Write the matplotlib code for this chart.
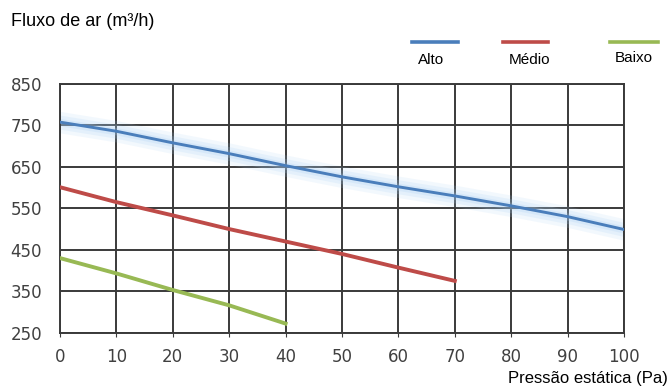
import matplotlib.pyplot as plt
import numpy as np

# Pressão estática (Pa)
pressao = [0, 10, 20, 30, 40, 50, 60, 70, 80, 90, 100]
alto = [758, 736, 708, 682, 653, 626, 602, 580, 556, 530, 499]
pressao_medio = [0, 10, 20, 30, 40, 50, 60, 70]
medio = [601, 565, 533, 500, 470, 440, 407, 375]
pressao_baixo = [0, 10, 20, 30, 40]
baixo = [430, 393, 353, 316, 272]

y_ticks = [250, 350, 450, 550, 650, 750, 850]
x_ticks = [0, 10, 20, 30, 40, 50, 60, 70, 80, 90, 100]

cor_alto = '#4A7EBB'
cor_medio = '#BE4B48'
cor_baixo = '#98B954'
cinza = '#3a3a3a'

fig = plt.figure(figsize=(6.7, 3.91), dpi=100)
ax = fig.add_axes([60/670, 1-332.7/391, 564/670, 248.7/391])

# brilho azul em volta da linha "Alto"
a = np.array(alto)
for w, al in [(26, 0.14), (17, 0.18), (9, 0.22)]:
    ax.fill_between(pressao, a - w, a + w, color='#a8d0f5', alpha=al, lw=0)

ax.plot(pressao, alto, color=cor_alto, lw=2.1, zorder=3)
ax.plot(pressao_medio, medio, color=cor_medio, lw=2.8, zorder=3)
ax.plot(pressao_baixo, baixo, color=cor_baixo, lw=2.8, zorder=3)

ax.set_xlim(0, 100)
ax.set_ylim(250, 850)
ax.set_xticks(x_ticks)
ax.set_yticks(y_ticks)
ax.grid(True, color=cinza, lw=1.4)
ax.set_axisbelow(True)
for s in ax.spines.values():
    s.set_color(cinza)
    s.set_linewidth(1.4)
ax.tick_params(axis='x', length=3, color=cinza, pad=8, labelsize=12, labelcolor='#404040')
ax.tick_params(axis='y', length=0, pad=13, labelsize=12, labelcolor='#404040')

fig.text(11/670, 1-22/391, 'Fluxo de ar (m³/h)', fontsize=13, family='Liberation Sans', va='center', ha='left')
fig.text(668/670, 1-379/391, 'Pressão estática (Pa)', fontsize=12, family='Liberation Sans', va='center', ha='right')

# legenda manual
leg = [('Alto', cor_alto, 412, 458, 431, 60), ('Médio', cor_medio, 503, 548, 529, 60),
       ('Baixo', cor_baixo, 610, 658, 634, 58)]
for nome, cor, x0, x1, xt, yt in leg:
    fig.add_artist(plt.Line2D([x0/670, x1/670], [1-42/391, 1-42/391], color=cor, lw=2.6))
    fig.text(xt/670, 1-yt/391, nome, fontsize=11, family='Liberation Sans', ha='center', va='center')

fig.savefig('out.png', dpi=100)
